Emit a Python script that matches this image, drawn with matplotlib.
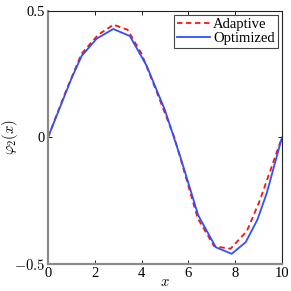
import numpy as np
import matplotlib
matplotlib.use("Agg")
import matplotlib.pyplot as plt

plt.rcParams['font.family'] = ['Liberation Serif', 'DejaVu Serif']
plt.rcParams['mathtext.fontset'] = 'cm'

# data
x_adapt = [0, 0.71, 1.43, 2.14, 2.8, 3.4, 4.0, 4.6, 5.4, 6.4, 7.1, 7.8, 8.5, 9.05, 10]
y_adapt = [0, 0.17, 0.33, 0.405, 0.445, 0.425, 0.33, 0.19, 0.0, -0.32, -0.43, -0.44, -0.37, -0.25, 0]

x_opt = [0, 1.0, 1.44, 2.08, 2.79, 3.5, 4.22, 5.0, 5.7, 6.42, 7.17, 7.85, 8.45, 8.95, 9.35, 10]
y_opt = [0, 0.232, 0.322, 0.39, 0.428, 0.40, 0.282, 0.107, -0.09, -0.308, -0.434, -0.46, -0.414, -0.325, -0.22, 0]

xticks = [0, 2, 4, 6, 8, 10]
yticks = [-0.5, 0, 0.5]
ytick_labels = ['$-0.5$', '0', '0.5']

fig = plt.figure(figsize=(2.91, 2.91), dpi=100)
ax = fig.add_axes([0.165, 0.093, 0.804, 0.87])

ax.plot(x_adapt, y_adapt, '--', color='#ff1010', lw=1.3, dashes=(3, 2), label='Adaptive')
ax.plot(x_opt, y_opt, '-', color='#3050f8', lw=1.3, label='Optimized')

ax.set_xlim(0, 10)
ax.set_ylim(-0.5, 0.5)
ax.set_xticks(xticks)
ax.set_yticks(yticks)
ax.set_yticklabels(ytick_labels)
ax.tick_params(direction='in', top=True, right=True, labelsize=10.5, length=3, width=0.6, pad=2)

for s in ['left', 'bottom']:
    ax.spines[s].set_color('#8a8a8a')
    ax.spines[s].set_linewidth(1.6)
for s in ['top', 'right']:
    ax.spines[s].set_color('#222222')
    ax.spines[s].set_linewidth(0.8)

ax.set_xlabel('$x$', fontsize=10.5, labelpad=-3)
ax.set_ylabel(r'$\varphi_2(x)$', fontsize=10.5, labelpad=-4)

leg = ax.legend(loc='upper right', fontsize=10.5, fancybox=False, framealpha=1,
                handlelength=2.3, handletextpad=0.2, borderpad=0.2, labelspacing=0.05,
                borderaxespad=0.3)
leg.get_frame().set_edgecolor('#444444')
leg.get_frame().set_linewidth(0.8)

fig.savefig('out.png', dpi=100)
